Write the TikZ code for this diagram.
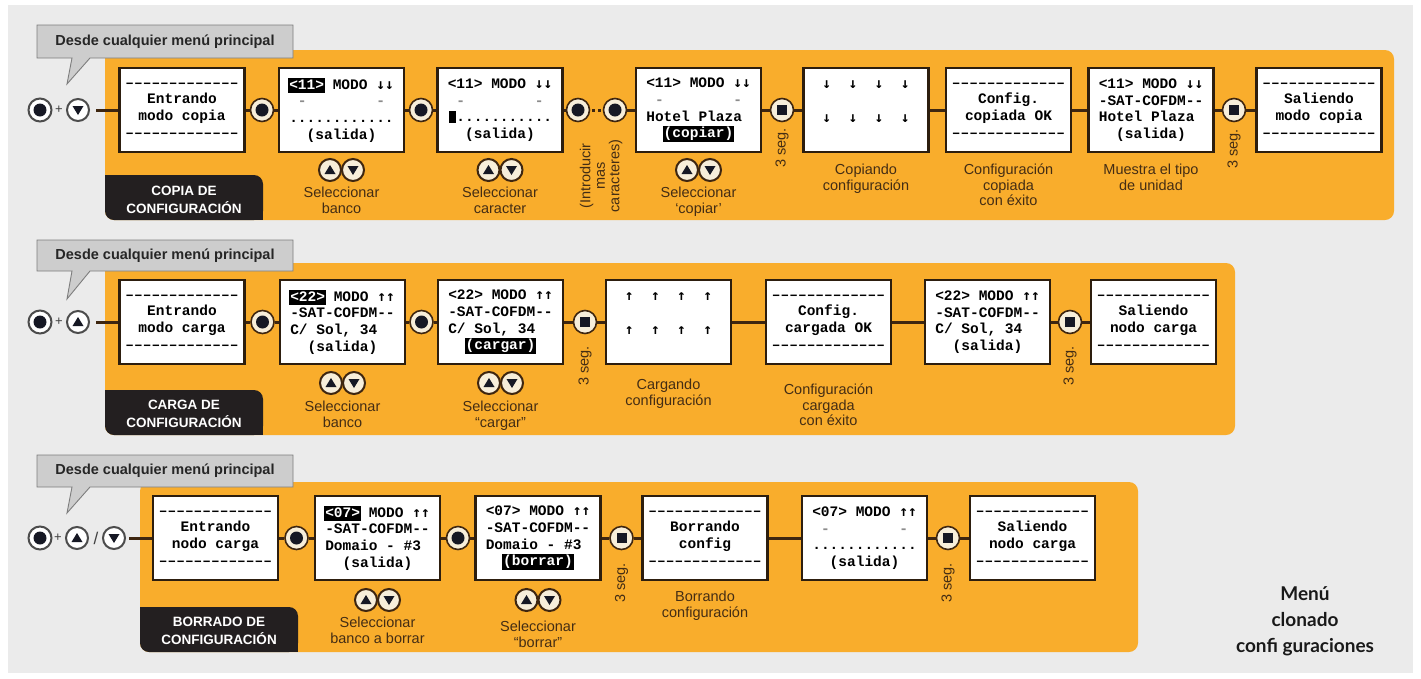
\documentclass[tikz,border=0pt]{standalone}
\usepackage{fontspec}
\setmainfont{Liberation Sans}
\newfontfamily\lcdfont{Liberation Mono}[Ligatures=TeXOff]
\newfontfamily\arrfont{DejaVu Sans Mono}
\newfontfamily\titlefont{Lato}
\usetikzlibrary{calc}
\definecolor{bggray}{RGB}{235,235,235}
\definecolor{band}{RGB}{249,173,44}
\definecolor{wire}{RGB}{62,38,16}
\definecolor{boxline}{RGB}{45,30,14}
\definecolor{lbl}{RGB}{68,45,20}
\definecolor{tagbg}{RGB}{35,31,32}
\definecolor{callfill}{RGB}{205,205,205}
\definecolor{calldraw}{RGB}{125,125,125}
\definecolor{cream}{RGB}{247,238,218}
\definecolor{knob}{RGB}{22,24,36}
\newcommand\blk{\hphantom{0}}
\newcommand\gd{\textcolor{black!45}{-}}
\newcommand\adn{{\arrfont\bfseries ↓}}
\newcommand\aup{{\arrfont\bfseries ↑}}
\newcommand\cur{\makebox[0.6em][c]{\rule[-1.5pt]{0.5em}{12pt}}}
\newcommand\inv[1]{\setbox0\hbox{#1}\rlap{\hspace{-1pt}\textcolor{black}{\rule[-4pt]{\dimexpr\wd0+2pt\relax}{15.5pt}}}\textcolor{white}{#1}}
\newcommand\dsh{–––––––––––––}
\begin{document}
\begin{tikzpicture}[x=1pt,y=-1pt,
  lcdbox/.style={draw=boxline, line width=2.2pt, fill=white, minimum width=125pt, minimum height=84pt, inner sep=0pt, align=center, font=\lcdfont\bfseries\fontsize{14.5}{16.7}\selectfont},
  wireline/.style={draw=wire, line width=3pt},
  btnbase/.style={circle, minimum size=23pt, inner sep=0pt, fill=cream, draw=wire, line width=1.6pt},
  dotbtn/.style={btnbase, path picture={\fill[knob] (path picture bounding box.center) circle (6.5pt);}},
  sqbtn/.style={btnbase, path picture={\fill[knob] ($(path picture bounding box.center)+(-5pt,-5pt)$) rectangle +(10pt,10pt);}},
  upbtn/.style={btnbase, minimum size=22pt, line width=2pt, path picture={\fill[knob] ($(path picture bounding box.center)+(0pt,5pt)$) -- ++(-5.5pt,-9pt) -- ++(11pt,0pt) -- cycle;}},
  dnbtn/.style={btnbase, minimum size=22pt, line width=2pt, path picture={\fill[knob] ($(path picture bounding box.center)+(0pt,-5pt)$) -- ++(-5.5pt,9pt) -- ++(11pt,0pt) -- cycle;}},
  startdot/.style={dotbtn, fill=white, draw=black!70, line width=2pt},
  startup/.style={upbtn, fill=white, draw=black!70},
  startdn/.style={dnbtn, fill=white, draw=black!70},
  plus/.style={inner sep=0pt, font=\fontsize{13}{13}\selectfont, text=black!75},
  lbltext/.style={inner sep=0pt, align=center, text=lbl, font=\fontsize{14.5}{15.5}\selectfont},
  vlbl/.style={inner sep=0pt, align=center, text=lbl, rotate=90, font=\fontsize{14.5}{14.5}\selectfont},
  tagtext/.style={inner sep=0pt, align=center, text=white, font=\bfseries\fontsize{13.5}{18}\selectfont},
  calltext/.style={inner sep=0pt, font=\bfseries\fontsize{14.5}{16}\selectfont, text=black!85},
  callshape/.style={fill=callfill, draw=calldraw, line width=0.9pt, line join=miter}
]
\useasboundingbox (0,0) rectangle (1421,678);
\fill[white] (0,0) rectangle (1421,678);
\fill[bggray] (8,5) rectangle (1413,673);

% ---------- bands and tags ----------
\fill[band, rounded corners=9pt] (105,50) rectangle (1394,220);
\fill[band, rounded corners=9pt] (105,263) rectangle (1235,435);
\fill[band, rounded corners=9pt] (140,482) rectangle (1138,652);
\foreach \lx/\ty/\by in {105/175/220, 105/390/435, 140/607/652}{
  \fill[tagbg, rounded corners=9pt] (\lx,\ty) rectangle (\lx+158,\by);
  \fill[tagbg] (\lx,\ty) rectangle (\lx+12,\ty+12);
  \fill[tagbg] (\lx+146,\by-12) rectangle (\lx+158,\by);
}
\node[tagtext] (tag1) at (184,200) {COPIA DE\\CONFIGURACIÓN};
\node[tagtext] (tag2) at (184,414) {CARGA DE\\CONFIGURACIÓN};
\node[tagtext] (tag3) at (219,631) {BORRADO DE\\CONFIGURACIÓN};

% ---------- row 1 : copia ----------
\node[lcdbox] (a1) at (182,110) {\dsh\\Entrando\\modo copia\\\dsh};
\node[lcdbox] (a2) at (341.5,110) {\inv{<11>} MODO \adn\adn\\\blk\gd\blk\blk\blk\blk\blk\blk\blk\blk\gd\blk\\............\\\blk\blk(salida)\blk\blk};
\node[lcdbox] (a3) at (500,110) {<11> MODO \adn\adn\\\blk\gd\blk\blk\blk\blk\blk\blk\blk\blk\gd\blk\\\cur...........\\\blk\blk(salida)\blk\blk};
\node[lcdbox] (a4) at (698.5,110) {<11> MODO \adn\adn\\\blk\gd\blk\blk\blk\blk\blk\blk\blk\blk\gd\blk\\Hotel Plaza\blk\\\blk\blk\inv{(copiar)}\blk\blk};
\node[lcdbox] (a5) at (866,110) {\adn\blk\blk\adn\blk\blk\adn\blk\blk\adn\\\blk\\\adn\blk\blk\adn\blk\blk\adn\blk\blk\adn\\\blk};
\node[lcdbox] (a6) at (1008.5,110) {\dsh\\Config.\\copiada OK\\\dsh};
\node[lcdbox] (a7) at (1151,110) {<11> MODO \adn\adn\\-SAT-COFDM--\\Hotel Plaza\blk\\\blk\blk(salida)\blk\blk};
\node[lcdbox] (a8) at (1319,110) {\dsh\\Saliendo\\modo copia\\\dsh};

\node[startdot] (p1) at (40,110) {};
\node[plus] (pl1) at (59,110) {+};
\node[startdn] (k1) at (78,110) {};
\coordinate (s1) at (96,110);
\node[dotbtn] (c11) at (262,110) {};
\node[dotbtn] (c12) at (421,110) {};
\node[dotbtn] (c13) at (578,110) {};
\node[dotbtn] (c14) at (615,110) {};
\node[sqbtn] (q11) at (782,110) {};
\node[sqbtn] (q12) at (1234,110) {};
\foreach \u/\v in {s1/a1, a1/c11, c11/a2, a2/c12, c12/a3, a3/c13, c14/a4, a4/q11, q11/a5, a5/a6, a6/a7, a7/q12, q12/a8}
  \draw[wireline] (\u) -- (\v);
\draw[wireline, dash pattern=on 3pt off 3pt, dash phase=-2pt] (c13) -- (c14);

\node[upbtn] (u12) at (330,170) {};  \node[dnbtn] (d12) at (353,170) {};
\node[upbtn] (u13) at (488.5,170) {}; \node[dnbtn] (d13) at (511.5,170) {};
\node[upbtn] (u14) at (687,170) {};  \node[dnbtn] (d14) at (710,170) {};
\node[lbltext, anchor=north] (t12) at (341.5,187) {Seleccionar\\banco};
\node[lbltext, anchor=north] (t13) at (500,187) {Seleccionar\\caracter};
\node[lbltext, anchor=north] (t14) at (698.5,187) {Seleccionar\\`copiar'};
\node[lbltext, anchor=north] (t15) at (866,164) {Copiando\\configuración};
\node[lbltext, anchor=north] (t16) at (1008.5,164) {Configuración\\copiada\\con éxito};
\node[lbltext, anchor=north] (t17) at (1151,164) {Muestra el tipo\\de unidad};
\node[vlbl, anchor=east] (v11) at (782,128) {3 seg.};
\node[vlbl, anchor=east] (v12) at (1234,129) {3 seg.};
\node[vlbl] (intro) at (601,176) {(Introducir\\mas\\caracteres)};

% ---------- row 2 : carga ----------
\node[lcdbox] (b1) at (182,322) {\dsh\\Entrando\\modo carga\\\dsh};
\node[lcdbox] (b2) at (342.5,322) {\inv{<22>} MODO \aup\aup\\-SAT-COFDM--\\C/ Sol, 34\blk\blk\\\blk\blk(salida)\blk\blk};
\node[lcdbox] (b3) at (500.5,322) {<22> MODO \aup\aup\\-SAT-COFDM--\\C/ Sol, 34\blk\blk\\\blk\blk\inv{(cargar)}\blk\blk};
\node[lcdbox] (b4) at (668.5,322) {\aup\blk\blk\aup\blk\blk\aup\blk\blk\aup\\\blk\\\aup\blk\blk\aup\blk\blk\aup\blk\blk\aup\\\blk};
\node[lcdbox] (b5) at (828.5,322) {\dsh\\Config.\\cargada OK\\\dsh};
\node[lcdbox] (b6) at (987.5,322) {<22> MODO \aup\aup\\-SAT-COFDM--\\C/ Sol, 34\blk\blk\\\blk\blk(salida)\blk\blk};
\node[lcdbox] (b7) at (1153.5,322) {\dsh\\Saliendo\\nodo carga\\\dsh};

\node[startdot] (p2) at (40,322) {};
\node[plus] (pl2) at (59,322) {+};
\node[startup] (k2) at (78,322) {};
\coordinate (s2) at (96,322);
\node[dotbtn] (c21) at (262.5,322) {};
\node[dotbtn] (c22) at (421.5,322) {};
\node[sqbtn] (q21) at (585,322) {};
\node[sqbtn] (q22) at (1070,322) {};
\foreach \u/\v in {s2/b1, b1/c21, c21/b2, b2/c22, c22/b3, b3/q21, q21/b4, b4/b5, b5/b6, b6/q22, q22/b7}
  \draw[wireline] (\u) -- (\v);

\node[upbtn] (u22) at (331,383) {};  \node[dnbtn] (d22) at (354,383) {};
\node[upbtn] (u23) at (489,383) {};  \node[dnbtn] (d23) at (512,383) {};
\node[lbltext, anchor=north] (t22) at (342.5,401) {Seleccionar\\banco};
\node[lbltext, anchor=north] (t23) at (500.5,401) {Seleccionar\\``cargar''};
\node[lbltext, anchor=north] (t24) at (668.5,379) {Cargando\\configuración};
\node[lbltext, anchor=north] (t25) at (828.5,384) {Configuración\\cargada\\con éxito};
\node[vlbl, anchor=east] (v21) at (585,346) {3 seg.};
\node[vlbl, anchor=east] (v22) at (1070,346) {3 seg.};

% ---------- row 3 : borrado ----------
\node[lcdbox] (e1) at (215.5,538) {\dsh\\Entrando\\nodo carga\\\dsh};
\node[lcdbox] (e2) at (377.5,538) {\inv{<07>} MODO \aup\aup\\-SAT-COFDM--\\Domaio - \#3\blk\\\blk\blk(salida)\blk\blk};
\node[lcdbox] (e3) at (538,538) {<07> MODO \aup\aup\\-SAT-COFDM--\\Domaio - \#3\blk\\\blk\blk\inv{(borrar)}\blk\blk};
\node[lcdbox] (e4) at (705,538) {\dsh\\Borrando\\config\\\dsh};
\node[lcdbox] (e5) at (864.5,538) {<07> MODO \aup\aup\\\blk\gd\blk\blk\blk\blk\blk\blk\blk\blk\gd\blk\\............\\\blk\blk(salida)\blk\blk};
\node[lcdbox] (e6) at (1032.5,538) {\dsh\\Saliendo\\nodo carga\\\dsh};

\node[startdot] (p3) at (40,538) {};
\node[plus] (pl3) at (58,538) {+};
\node[startup] (k3u) at (77,538) {};
\node[plus, font=\fontsize{17}{17}\selectfont] (sl3) at (96,538) {/};
\node[startdn] (k3d) at (114,538) {};
\coordinate (s3) at (129,538);
\node[dotbtn] (c31) at (296.5,538) {};
\node[dotbtn] (c32) at (458,538) {};
\node[sqbtn] (q31) at (621.5,538) {};
\node[sqbtn] (q32) at (948,538) {};
\foreach \u/\v in {s3/e1, e1/c31, c31/e2, e2/c32, c32/e3, e3/q31, q31/e4, e4/e5, e5/q32, q32/e6}
  \draw[wireline] (\u) -- (\v);

\node[upbtn] (u32) at (366,600) {};   \node[dnbtn] (d32) at (389,600) {};
\node[upbtn] (u33) at (526.5,600) {}; \node[dnbtn] (d33) at (549.5,600) {};
\node[lbltext, anchor=north] (t32) at (377.5,617) {Seleccionar\\banco a borrar};
\node[lbltext, anchor=north] (t33) at (538,621) {Seleccionar\\``borrar''};
\node[lbltext, anchor=north] (t34) at (705,591) {Borrando\\configuración};
\node[vlbl, anchor=east] (v31) at (621.5,563) {3 seg.};
\node[vlbl, anchor=east] (v32) at (948,563) {3 seg.};

% ---------- callouts ----------
\filldraw[callshape] (37,25) -- (293,25) -- (293,58) -- (90,58) -- (67,84) -- (72,58) -- (37,58) -- cycle;
\node[calltext] (call1) at (165,41.5) {Desde cualquier menú principal};
\filldraw[callshape] (37,240) -- (293,240) -- (293,271) -- (90,271) -- (67,299) -- (72,271) -- (37,271) -- cycle;
\node[calltext] (call2) at (165,255.5) {Desde cualquier menú principal};
\filldraw[callshape] (37,455) -- (293,455) -- (293,487) -- (90,487) -- (67,513) -- (72,487) -- (37,487) -- cycle;
\node[calltext] (call3) at (165,471) {Desde cualquier menú principal};

% ---------- title ----------
\node[inner sep=0pt, align=center, anchor=north, font=\titlefont\bfseries\fontsize{19}{26}\selectfont, text=black!90] (title) at (1305,586) {Menú\\clonado\\confi guraciones};
\end{tikzpicture}
\end{document}
